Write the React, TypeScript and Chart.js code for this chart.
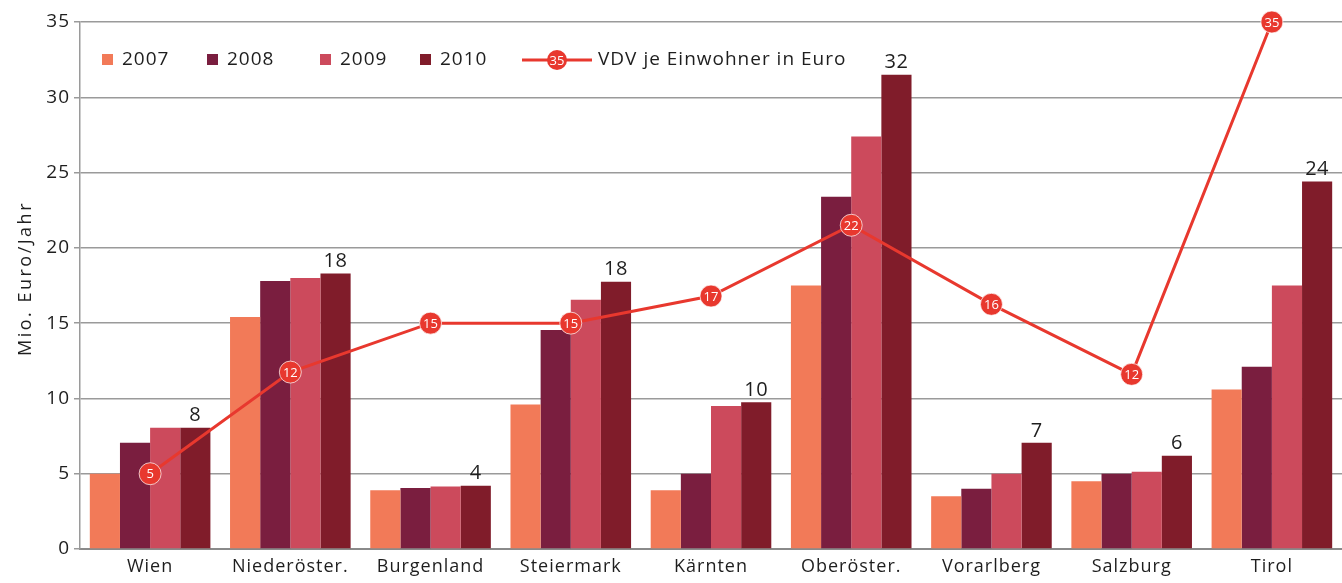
import React, { useEffect, useRef } from "react";
import { Chart, registerables } from "chart.js";

Chart.register(...registerables);

const categories = ["Wien", "Niederöster.", "Burgenland", "Steiermark", "Kärnten", "Oberöster.", "Vorarlberg", "Salzburg", "Tirol"];
const values2007 = [5.0, 15.4, 3.9, 9.6, 3.9, 17.5, 3.5, 4.5, 10.6];
const values2008 = [7.05, 17.8, 4.05, 14.55, 5.0, 23.4, 4.0, 5.0, 12.1];
const values2009 = [8.05, 18.0, 4.15, 16.55, 9.5, 27.4, 5.0, 5.13, 17.5];
const values2010 = [8.05, 18.3, 4.2, 17.75, 9.75, 31.5, 7.05, 6.2, 24.4];
const vdvPerCapita = [5.0, 11.75, 15.0, 15.0, 16.8, 21.5, 16.25, 11.6, 35.0];
const yTicks = [0, 5, 10, 15, 20, 25, 30, 35];
const seriesLabels = ["2007", "2008", "2009", "2010", "VDV je Einwohner in Euro"];
const seriesColors = ["#F27A58", "#7A1E3F", "#CC4A5C", "#801C2A", "#E8382E"];
const yAxisTitle = "Mio. Euro/Jahr";

const FONT = "'Open Sans', Lato, sans-serif";
const TEXT = "#1e1e1e";

const labelsPlugin = {
  id: "customLabels",
  beforeDraw(chart: any) {
    (chart.ctx as any).letterSpacing = "1px";
  },
  afterDatasetsDraw(chart: any) {
    const ctx = chart.ctx;
    ctx.save();
    (ctx as any).letterSpacing = "0.5px";
    const meta2010 = chart.getDatasetMeta(3);
    ctx.font = `20px ${FONT}`;
    ctx.fillStyle = TEXT;
    ctx.textAlign = "center";
    ctx.textBaseline = "bottom";
    meta2010.data.forEach((bar: any, i: number) => {
      ctx.fillText(String(Math.round(values2010[i])), bar.x, bar.y - 2);
    });
    (ctx as any).letterSpacing = "0px";
    const metaLine = chart.getDatasetMeta(4);
    ctx.font = `13px ${FONT}`;
    ctx.fillStyle = "#ffffff";
    ctx.textBaseline = "middle";
    metaLine.data.forEach((pt: any, i: number) => {
      ctx.fillText(String(Math.round(vdvPerCapita[i])), pt.x, pt.y + 1);
    });
    ctx.restore();
  },
  afterDraw(chart: any) {
    const ctx = chart.ctx;
    const area = chart.chartArea;
    ctx.save();
    // y axis title
    (ctx as any).letterSpacing = "2.5px";
    ctx.font = `18px ${FONT}`;
    ctx.fillStyle = TEXT;
    ctx.textAlign = "center";
    ctx.textBaseline = "middle";
    ctx.translate(26, (area.top + area.bottom) / 2 - 7);
    ctx.rotate(-Math.PI / 2);
    ctx.fillText(yAxisTitle, 0, 0);
    ctx.setTransform(1, 0, 0, 1, 0, 0);

    // legend
    (ctx as any).letterSpacing = "1px";
    const y = area.top + 38;
    ctx.font = `19px ${FONT}`;
    ctx.textBaseline = "middle";
    ctx.textAlign = "left";
    const offsets = [22, 127, 240, 340];
    for (let i = 0; i < 4; i++) {
      const x = area.left + offsets[i];
      ctx.fillStyle = seriesColors[i];
      ctx.fillRect(x, y - 6, 11, 11);
      ctx.fillStyle = TEXT;
      ctx.fillText(seriesLabels[i], x + 20, y);
    }
    const lx = area.left + 442;
    ctx.strokeStyle = seriesColors[4];
    ctx.lineWidth = 3;
    ctx.beginPath();
    ctx.moveTo(lx, y);
    ctx.lineTo(lx + 70, y);
    ctx.stroke();
    ctx.fillStyle = seriesColors[4];
    ctx.beginPath();
    ctx.arc(lx + 35, y, 10, 0, Math.PI * 2);
    ctx.fill();
    (ctx as any).letterSpacing = "0px";
    ctx.fillStyle = "#fff";
    ctx.font = `13px ${FONT}`;
    ctx.textAlign = "center";
    ctx.fillText("35", lx + 35, y + 1);
    (ctx as any).letterSpacing = "1px";
    ctx.font = `19px ${FONT}`;
    ctx.textAlign = "left";
    ctx.fillStyle = TEXT;
    ctx.fillText(seriesLabels[4], lx + 76, y);
    ctx.restore();
    (ctx as any).letterSpacing = "0px";
  },
};

export default function App() {
  const canvasRef = useRef<HTMLCanvasElement | null>(null);

  useEffect(() => {
    document.body.style.margin = "0";
    const canvas = canvasRef.current;
    if (!canvas) return;
    const barDatasets = [values2007, values2008, values2009, values2010].map((vals, i) => ({
      type: "bar" as const,
      label: seriesLabels[i],
      data: vals,
      backgroundColor: seriesColors[i],
      borderWidth: 0,
      categoryPercentage: 0.86,
      barPercentage: 1.0,
      order: 2,
    }));
    const chart = new Chart(canvas, {
      type: "bar",
      data: {
        labels: categories,
        datasets: [
          ...barDatasets,
          {
            type: "line" as const,
            label: seriesLabels[4],
            data: vdvPerCapita,
            borderColor: seriesColors[4],
            backgroundColor: seriesColors[4],
            borderWidth: 3,
            pointRadius: 11,
            pointBackgroundColor: seriesColors[4],
            pointBorderColor: "rgba(255,255,255,0.7)",
            pointBorderWidth: 1,
            tension: 0,
            clip: false,
            order: 1,
          } as any,
        ],
      },
      options: {
        animation: false,
        responsive: false,
        maintainAspectRatio: false,
        layout: { autoPadding: false, padding: { top: 22, right: 0, bottom: 0, left: 6 } },
        plugins: {
          legend: { display: false },
          tooltip: { enabled: false },
        },
        scales: {
          x: {
            grid: { display: false, drawTicks: false },
            border: { display: true, color: "#8a8a8a", width: 2 },
            ticks: {
              color: TEXT,
              font: { family: FONT, size: 18 },
              padding: 7,
              maxRotation: 0,
              autoSkip: false,
            },
            afterFit: (s: any) => {
              s.height = 34;
            },
          },
          y: {
            min: 0,
            max: 35,
            afterBuildTicks: (s: any) => {
              s.ticks = yTicks.map((v) => ({ value: v }));
            },
            grid: {
              color: "#9a9a9a",
              lineWidth: 1.5,
              tickLength: 6,
              tickColor: "#9a9a9a",
            },
            border: { display: true, color: "#9a9a9a", width: 1.5 },
            ticks: {
              color: TEXT,
              font: { family: FONT, size: 19 },
              padding: 4,
            },
            title: { display: false },
            afterFit: (s: any) => {
              s.width = 74;
            },
          },
        },
      },
      plugins: [labelsPlugin],
    });
    return () => chart.destroy();
  }, []);

  return (
    <div style={{ position: "absolute", left: 0, top: 0, width: 1342, height: 583, background: "#fff" }}>
      <canvas ref={canvasRef} width={1342} height={583} style={{ width: 1342, height: 583 }} />
    </div>
  );
}
